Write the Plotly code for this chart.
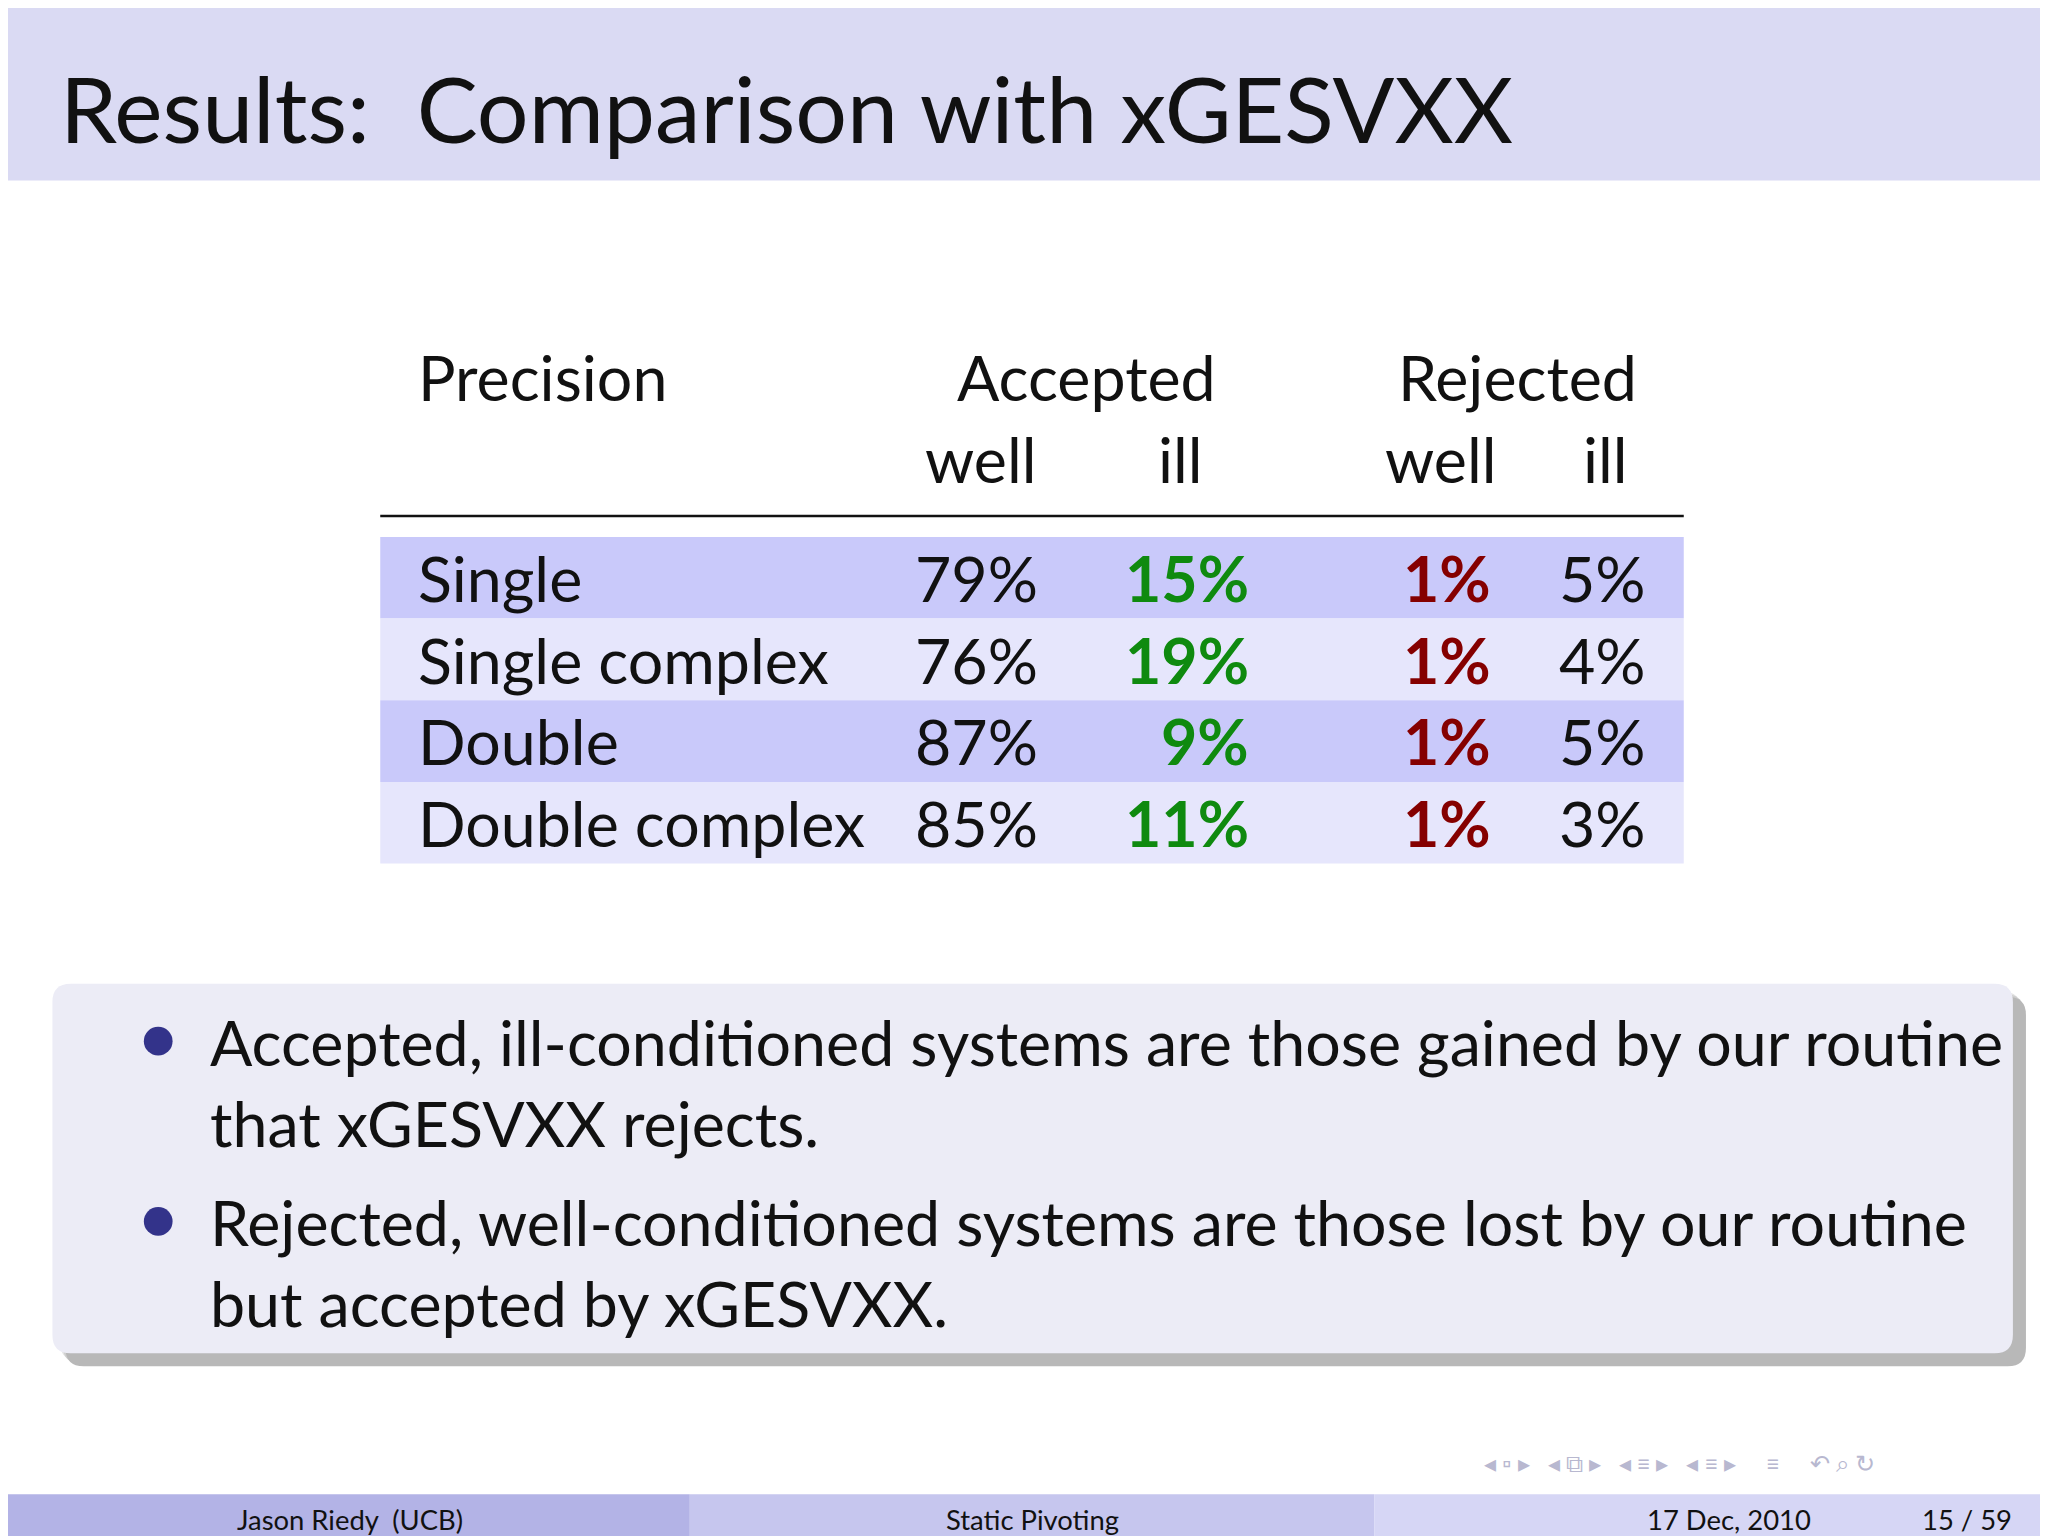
import plotly.graph_objects as go

S = 2048/1568
title = "Results:  Comparison with xGESVXX"
precisions = ["Single", "Single complex", "Double", "Double complex"]
acc_well = ["79%", "76%", "87%", "85%"]
acc_ill = ["15%", "19%", "9%", "11%"]
rej_well = ["1%", "1%", "1%", "1%"]
rej_ill = ["5%", "4%", "5%", "3%"]
bullets = [["Accepted, ill-conditioned systems are those gained by our routine", "that xGESVXX rejects."],
           ["Rejected, well-conditioned systems are those lost by our routine", "but accepted by xGESVXX."]]
footer = ["Jason Riedy  (UCB)", "Static Pivoting", "17 Dec, 2010", "15 / 59"]

FONT = "Lato"
fig = go.Figure()
shapes, ann = [], []
def rect(x0, y0, x1, y1, c, **kw):
    shapes.append(dict(type="rect", x0=x0, x1=x1, y0=y0, y1=y1, fillcolor=c, line=dict(width=0), layer="below", **kw))
def txt(x, y, t, size, color="#111", anchor="left", bold=False):
    ann.append(dict(x=x, y=y, text=f"<b>{t}</b>" if bold else t, showarrow=False, xanchor=anchor, yanchor="middle",
                    font=dict(family=FONT, size=size*S, color=color)))

rect(0, 0, 1568, 132, "#dadaf3")
txt(38, 76, title, 70)
txt(312, 282, "Precision", 48)
txt(826, 282, "Accepted", 48, anchor="center")
txt(1156, 282, "Rejected", 48, anchor="center")
for x, t in [(745, "well"), (898, "ill"), (1097, "well"), (1223, "ill")]:
    txt(x, 345, t, 48, anchor="center")
shapes.append(dict(type="line", x0=285, x1=1283, y0=389, y1=389, line=dict(color="#111", width=2.5)))
for i, p in enumerate(precisions):
    y0 = 405 + i*62.5
    rect(285, y0, 1283, y0+62.5, "#c9c9fa" if i % 2 == 0 else "#e6e6fc")
    yc = y0 + 31
    txt(312, yc, p, 48)
    txt(790, yc, acc_well[i], 48, anchor="right")
    txt(952, yc, acc_ill[i], 48, color="#0f8a0f", anchor="right", bold=True)
    txt(1137, yc, rej_well[i], 48, color="#850000", anchor="right", bold=True)
    txt(1256, yc, rej_ill[i], 48, anchor="right")

def rr(x0, y0, x1, y1, r, c):
    p = (f"M{x0+r},{y0} L{x1-r},{y0} Q{x1},{y0} {x1},{y0+r} L{x1},{y1-r} Q{x1},{y1} {x1-r},{y1} "
         f"L{x0+r},{y1} Q{x0},{y1} {x0},{y1-r} L{x0},{y0+r} Q{x0},{y0} {x0+r},{y0} Z")
    shapes.append(dict(type="path", path=p, fillcolor=c, line=dict(width=0), layer="below"))
for k, c in enumerate(["#e4e4e4", "#cfcfcf", "#b8b8b8"]):
    rr(40+k*2, 753+k*2, 1541+k*2, 1036+k*2, 14, c)
rr(34, 747, 1535, 1030, 14, "#ececf6")
for j, (l1, l2) in enumerate(bullets):
    yb = 791 + j*138
    shapes.append(dict(type="circle", x0=104, x1=126, y0=yb-11, y1=yb+11, fillcolor="#33338a", line=dict(width=0)))
    txt(153, yb, l1, 48)
    txt(153, yb+62, l2, 48)

rect(0, 1138, 522, 1176, "#b3b3e6")
rect(522, 1138, 1046, 1176, "#c6c6ee")
rect(1046, 1138, 1568, 1176, "#d6d6f5")
txt(262, 1157, footer[0], 21, anchor="center")
txt(784, 1157, footer[1], 21, anchor="center")
txt(1318, 1157, footer[2], 21, anchor="center")
txt(1500, 1157, footer[3], 21, anchor="center")
txt(1280, 1114, "◂ ▫ ▸   ◂ ⧉ ▸   ◂ ≡ ▸   ◂ ≡ ▸     ≡     ↶ ⌕ ↻", 18, color="#b8b8d0", anchor="center")

fig.update_layout(width=2048, height=1536, margin=dict(l=0, r=0, t=0, b=0), plot_bgcolor="white", paper_bgcolor="white",
                  shapes=shapes, annotations=ann, showlegend=False,
                  xaxis=dict(range=[0, 1568], visible=False, fixedrange=True),
                  yaxis=dict(range=[1176, 0], visible=False, fixedrange=True))
fig.write_html("out.html")
